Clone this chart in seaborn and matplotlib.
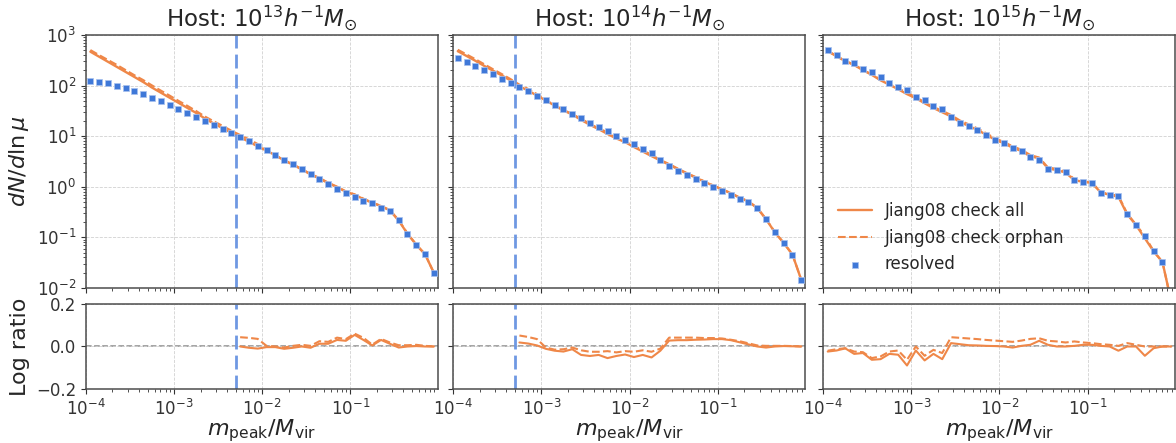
import matplotlib
matplotlib.use("Agg")
import matplotlib.pyplot as plt
import numpy as np
import pandas as pd
import seaborn as sns
from matplotlib.ticker import FixedLocator

# bin centres, log10(m_peak / M_vir)
log_mu = [-3.95, -3.85, -3.75, -3.65, -3.55, -3.45, -3.35, -3.25, -3.15, -3.05,
          -2.95, -2.85, -2.75, -2.65, -2.55, -2.45, -2.35, -2.25, -2.15, -2.05,
          -1.95, -1.85, -1.75, -1.65, -1.55, -1.45, -1.35, -1.25, -1.15, -1.05,
          -0.95, -0.85, -0.75, -0.65, -0.55, -0.45, -0.35, -0.25, -0.15, -0.05]

host_exp = ["13", "14", "15"]
mu_cut = [5e-3, 5e-4, 5e-5]

# log10(dN/dln mu) of resolved subhaloes
resolved_13 = [2.092, 2.072, 2.046, 2.000, 1.947, 1.895, 1.829, 1.763, 1.691, 1.612,
               1.539, 1.461, 1.388, 1.309, 1.224, 1.145, 1.059, 0.980, 0.895, 0.809,
               0.717, 0.625, 0.533, 0.441, 0.342, 0.250, 0.151, 0.059, -0.039, -0.125,
               -0.211, -0.276, -0.322, -0.414, -0.480, -0.664, -0.928, -1.151, -1.336, -1.704]
resolved_14 = [2.539, 2.461, 2.382, 2.303, 2.224, 2.138, 2.053, 1.967, 1.888, 1.796,
               1.717, 1.625, 1.533, 1.441, 1.362, 1.270, 1.178, 1.099, 1.000, 0.921,
               0.836, 0.737, 0.658, 0.539, 0.408, 0.316, 0.230, 0.151, 0.066, -0.013,
               -0.086, -0.158, -0.237, -0.303, -0.421, -0.638, -0.901, -1.112, -1.342, -1.842]
resolved_15 = [2.704, 2.599, 2.493, 2.441, 2.336, 2.276, 2.164, 2.053, 1.967, 1.921,
               1.770, 1.717, 1.592, 1.533, 1.375, 1.270, 1.197, 1.118, 1.026, 0.928,
               0.862, 0.776, 0.704, 0.592, 0.539, 0.355, 0.329, 0.283, 0.125, 0.092,
               0.066, -0.118, -0.158, -0.178, -0.546, -0.757, -0.974, -1.270, -1.487, -2.270]

# log ratio Jiang08 / resolved
ratio_all_13 = [0.578, 0.498, 0.424, 0.370, 0.323, 0.275, 0.241, 0.197, 0.169, 0.148,
                0.121, 0.099, 0.072, 0.041, 0.026, 0.015, 0.011, 0.000, -0.006, -0.010,
                -0.003, -0.003, -0.011, -0.006, 0.000, -0.006, 0.013, 0.013, 0.031, 0.027,
                0.055, 0.031, 0.005, 0.031, 0.013, -0.005, 0.000, 0.002, 0.000, 0.000]
ratio_orphan_13 = [0.61, 0.53, 0.46, 0.41, 0.36, 0.31, 0.28, 0.24, 0.21, 0.19,
                   0.16, 0.14, 0.11, 0.08, 0.07, 0.06, 0.05, 0.044, 0.041, 0.036,
                   0.003, 0.000, -0.005, 0.003, 0.008, 0.003, 0.025, 0.022, 0.042, 0.035,
                   0.061, 0.041, 0.009, 0.036, 0.019, 0.006, 0.006, 0.008, 0.003, 0.000]
ratio_all_14 = [0.141, 0.124, 0.108, 0.087, 0.071, 0.062, 0.047, 0.019, 0.014, 0.005,
                -0.011, -0.020, -0.024, -0.013, -0.040, -0.045, -0.040, -0.055, -0.045, -0.038,
                -0.050, -0.040, -0.052, -0.020, 0.028, 0.030, 0.030, 0.032, 0.033, 0.035,
                0.035, 0.030, 0.020, 0.010, 0.000, -0.005, 0.000, 0.002, 0.001, 0.000]
ratio_orphan_14 = [0.17, 0.155, 0.14, 0.12, 0.10, 0.09, 0.075, 0.052, 0.045, 0.035,
                   -0.005, -0.015, -0.013, -0.005, -0.018, -0.025, -0.025, -0.022, -0.028, -0.022,
                   -0.025, -0.018, -0.025, -0.010, 0.042, 0.042, 0.042, 0.042, 0.040, 0.040,
                   0.038, 0.032, 0.025, 0.015, 0.005, 0.003, 0.003, 0.003, 0.002, 0.000]
ratio_all_15 = [-0.024, -0.019, -0.009, -0.035, -0.031, -0.063, -0.060, -0.035, -0.039, -0.090,
                -0.019, -0.066, -0.035, -0.060, 0.016, 0.011, 0.006, 0.005, 0.003, 0.002,
                0.000, -0.005, 0.003, 0.008, 0.027, 0.008, 0.000, 0.000, 0.003, 0.008,
                0.008, 0.003, 0.000, -0.020, 0.000, 0.000, -0.044, -0.008, 0.000, 0.000]
ratio_orphan_15 = [-0.020, -0.013, -0.008, -0.024, -0.027, -0.055, -0.047, -0.024, -0.019, -0.063,
                   0.000, -0.044, -0.016, -0.031, 0.044, 0.041, 0.038, 0.035, 0.031, 0.028,
                   0.025, 0.022, 0.028, 0.036, 0.039, 0.027, 0.024, 0.019, 0.024, 0.019,
                   0.016, 0.011, 0.008, 0.003, 0.016, 0.008, 0.000, 0.000, 0.000, 0.000]

resolved = [resolved_13, resolved_14, resolved_15]
ratio_all = [ratio_all_13, ratio_all_14, ratio_all_15]
ratio_orphan = [ratio_orphan_13, ratio_orphan_14, ratio_orphan_15]

orange = "#ef8748"
blue = "#3f78d8"
cut_blue = "#6f98e2"

sns.set_style("ticks")
plt.rcParams["font.family"] = ["DejaVu Sans"]
plt.rcParams["axes.edgecolor"] = "0.3"
plt.rcParams["axes.linewidth"] = 1.1
plt.rcParams["xtick.color"] = "0.2"
plt.rcParams["ytick.color"] = "0.2"

fig = plt.figure(figsize=(11.76, 4.43), dpi=100)
lefts = [0.0731, 0.3855, 0.7001]
width = 0.2993

for k in range(3):
    mu = 10 ** np.array(log_mu)
    res = np.array(resolved[k])
    df = pd.DataFrame({
        "mu": mu,
        "resolved": 10 ** res,
        "all": 10 ** (res + np.array(ratio_all[k])),
        "orphan": 10 ** (res + np.array(ratio_orphan[k])),
        "r_all": ratio_all[k],
        "r_orphan": ratio_orphan[k],
    })
    dr = df[df["mu"] >= mu_cut[k]]

    ax = fig.add_axes([lefts[k], 0.350, width, 0.571])
    axr = fig.add_axes([lefts[k], 0.1226, width, 0.1905])

    lab = k == 2
    sns.lineplot(data=df, x="mu", y="all", ax=ax, color=orange, lw=1.7,
                 label="Jiang08 check all" if lab else None, legend=lab)
    sns.lineplot(data=df, x="mu", y="orphan", ax=ax, color=orange, lw=1.5, linestyle="--",
                 label="Jiang08 check orphan" if lab else None, legend=lab)
    sns.scatterplot(data=df, x="mu", y="resolved", ax=ax, color=blue, marker="s", s=24,
                    edgecolor="#a9c2ee", linewidth=0.5, zorder=3,
                    label="resolved" if lab else None, legend=lab)

    sns.lineplot(data=dr, x="mu", y="r_all", ax=axr, color=orange, lw=1.5, legend=False)
    sns.lineplot(data=dr, x="mu", y="r_orphan", ax=axr, color=orange, lw=1.5,
                 linestyle="--", legend=False)
    axr.axhline(0, color="0.55", ls="--", lw=1.1, zorder=0)

    for a in (ax, axr):
        a.set_xscale("log")
        a.set_xlim(1e-4, 0.99)
        a.axvline(mu_cut[k], color=cut_blue, ls=(0, (5, 2.2)), lw=2)
        a.grid(True, which="major", ls="--", lw=0.6, color="0.82")
        a.tick_params(labelsize=12)

    ax.set_yscale("log")
    ax.set_ylim(1e-2, 1e3)
    axr.set_ylim(-0.2, 0.2)
    axr.yaxis.set_major_locator(FixedLocator([-0.2, 0.0, 0.2]))
    ax.tick_params(labelbottom=False)
    ax.set_xlabel("")
    ax.set_title(r"Host: $10^{%s}h^{-1}M_{\odot}$" % host_exp[k], fontsize=16.5)
    axr.set_xlabel(r"$m_{\rm peak}/M_{\rm vir}$", fontsize=16, labelpad=-1)

    if k == 0:
        ax.set_ylabel(r"$dN/d\ln\mu$", fontsize=16)
        axr.set_ylabel("Log ratio", fontsize=16)
    else:
        ax.set_ylabel("")
        axr.set_ylabel("")
        ax.tick_params(labelleft=False)
        axr.tick_params(labelleft=False)

    if lab:
        ax.legend(loc="lower left", frameon=False, fontsize=12, scatterpoints=1)

fig.savefig("out.png", dpi=100)
